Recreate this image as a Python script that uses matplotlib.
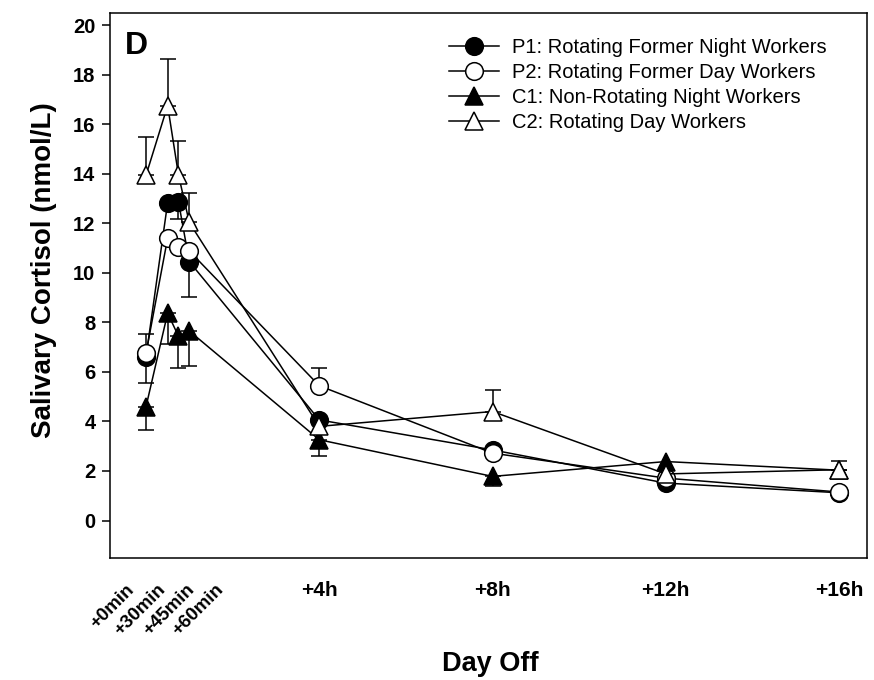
import matplotlib
matplotlib.use("Agg")
import matplotlib.pyplot as plt
from matplotlib.transforms import blended_transform_factory

plt.rcParams['font.family'] = ['Liberation Sans', 'DejaVu Sans']

# Sampling times (hours after waking on the day off)
hours = [0, 0.5, 0.75, 1, 4, 8, 12, 16]
hour_ticks = [4, 8, 12, 16]
hour_labels = ["+4h", "+8h", "+12h", "+16h"]
minute_labels = ["+0min", "+30min", "+45min", "+60min"]

series_names = [
    "P1: Rotating Former Night Workers",
    "P2: Rotating Former Day Workers",
    "C1: Non-Rotating Night Workers",
    "C2: Rotating Day Workers",
]

# Mean salivary cortisol (nmol/L) and one-sided SEM bars
p1 = [6.6, 12.83, 12.87, 10.45, 4.06, 2.85, 1.51, 1.12]
p1_err_lo = [1.03, 0, 0.7, 1.42, 0, 0, 0, 0]
p1_err_hi = [0, 0, 0, 0, 0, 0, 0, 0]

p2 = [6.75, 11.4, 11.06, 10.88, 5.44, 2.72, 1.71, 1.15]
p2_err_lo = [0, 0, 0, 0, 0, 0, 0, 0]
p2_err_hi = [0.77, 0, 0, 0, 0.71, 0, 0, 0]

c1 = [4.59, 8.37, 7.44, 7.65, 3.26, 1.78, 2.38, 2.03]
c1_err_lo = [0.95, 1.25, 1.29, 1.4, 0.65, 0.38, 0, 0.3]
c1_err_hi = [0, 0, 0, 0, 0, 0, 0, 0]

c2 = [13.93, 16.75, 13.95, 12.03, 3.8, 4.4, 1.88, 2.05]
c2_err_lo = [0, 0, 0, 0, 0, 0, 0, 0]
c2_err_hi = [1.55, 1.88, 1.38, 1.17, 0, 0.87, 0, 0.36]

# where the rotated minute labels sit along the time axis
minute_label_x = [-0.2, 0.52, 1.19, 1.88]

fig = plt.figure(figsize=(8.74, 6.8), dpi=100)
ax = fig.add_axes([0.1259, 0.1799, 0.8658, 0.8015])

styles = [
    dict(marker='o', mfc='black', ms=12.7),
    dict(marker='o', mfc='white', ms=12.7),
    dict(marker='^', mfc='black', ms=13.2),
    dict(marker='^', mfc='white', ms=13.2),
]
data = [
    (p1, p1_err_lo, p1_err_hi),
    (p2, p2_err_lo, p2_err_hi),
    (c1, c1_err_lo, c1_err_hi),
    (c2, c2_err_lo, c2_err_hi),
]

handles = []
for i, ((vals, lo, hi), st, name) in enumerate(zip(data, styles, series_names)):
    z = 2 + i
    idx = [k for k in range(len(hours)) if lo[k] > 0 or hi[k] > 0]
    ax.errorbar([hours[k] for k in idx], [vals[k] for k in idx],
                yerr=[[lo[k] for k in idx], [hi[k] for k in idx]],
                fmt='none', ecolor='black', elinewidth=1.1, capsize=5.5,
                capthick=1.1, zorder=z)
    ln, = ax.plot(hours, vals, color='black', lw=1.1, marker=st['marker'],
                  ms=st['ms'], mfc=st['mfc'], mec='black', mew=1.1,
                  zorder=z + 0.5, label=name)
    handles.append(ln)

ax.set_xlim(-0.83, 16.64)
ax.set_ylim(-1.5, 20.5)
ax.set_yticks(range(0, 21, 2))
ax.tick_params(axis='y', direction='out', length=5.5, width=1.1, pad=5,
               labelsize=14.5)
for lab in ax.get_yticklabels():
    lab.set_fontweight('bold')
ax.set_xticks(hour_ticks)
ax.set_xticklabels(hour_labels, fontsize=15, fontweight='bold')
ax.tick_params(axis='x', length=0, pad=17)

for sp in ax.spines.values():
    sp.set_linewidth(1.1)

trans = blended_transform_factory(ax.transData, ax.transAxes)
for xv, txt in zip(minute_label_x, minute_labels):
    ax.text(xv, -0.043, txt, transform=trans, rotation=45, ha='right',
            va='top', fontsize=13.5, fontweight='bold')

ax.text(-0.0872, 0.528, "Salivary Cortisol (nmol/L)", transform=ax.transAxes,
        rotation=90, ha='center', va='center', fontsize=20, fontweight='bold')
ax.text(0.502, -0.195, "Day Off", transform=ax.transAxes, ha='center',
        va='center', fontsize=19.5, fontweight='bold')
ax.text(0.0198, 0.967, "D", transform=ax.transAxes, ha='left', va='top',
        fontsize=23, fontweight='bold')

ax.legend(handles=handles, loc='upper left', bbox_to_anchor=(0.448, 0.953),
          frameon=False, fontsize=14.5, handlelength=2.5, handletextpad=0.65,
          labelspacing=0.29, borderpad=0, borderaxespad=0, numpoints=1)

fig.savefig("out.png", dpi=100)
